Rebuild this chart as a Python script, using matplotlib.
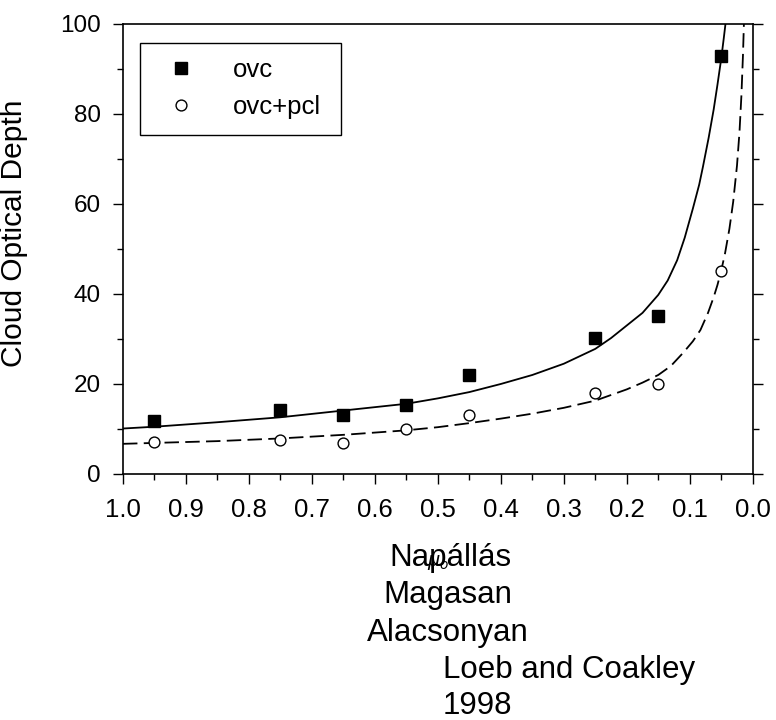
import matplotlib
matplotlib.use("Agg")
import matplotlib.pyplot as plt
from matplotlib.ticker import MultipleLocator, FormatStrFormatter

plt.rcParams['font.family'] = ['Liberation Sans', 'DejaVu Sans']

# measured points
mu0 = [0.95, 0.75, 0.65, 0.55, 0.45, 0.25, 0.15, 0.05]
tau_ovc = [11.7, 14.3, 13.0, 15.3, 22.1, 30.3, 35.0, 92.8]
tau_pcl = [7.0, 7.6, 6.9, 10.0, 13.0, 18.0, 20.0, 45.1]

# fitted curves
fit_ovc_x = [1.0, 0.95, 0.9, 0.85, 0.75, 0.65, 0.55, 0.5, 0.45, 0.4, 0.35, 0.3,
             0.25, 0.225, 0.2, 0.175, 0.15, 0.135, 0.12, 0.108, 0.095, 0.085,
             0.079, 0.07, 0.062, 0.056, 0.05, 0.046, 0.042]
fit_ovc_y = [10.1, 10.5, 11.0, 11.5, 12.6, 14.1, 15.6, 16.8, 18.2, 20.0, 22.0, 24.5,
             27.8, 30.2, 33.0, 35.8, 39.8, 43.0, 47.5, 52.5, 59.0, 64.3,
             68.3, 74.7, 81.0, 86.5, 92.3, 96.8, 101.5]
fit_pcl_x = [1.0, 0.95, 0.85, 0.75, 0.65, 0.55, 0.5, 0.45, 0.4, 0.35, 0.3, 0.25,
             0.2, 0.175, 0.15, 0.13, 0.11, 0.095, 0.083, 0.071, 0.062, 0.056,
             0.05, 0.044, 0.037, 0.031, 0.025, 0.021, 0.018, 0.0155, 0.014]
fit_pcl_y = [6.7, 6.9, 7.3, 7.9, 8.7, 9.7, 10.4, 11.3, 12.3, 13.4, 14.7, 16.3,
             18.8, 20.3, 22.0, 24.0, 27.0, 29.5, 32.0, 35.8, 39.3, 42.0,
             45.2, 49.0, 54.5, 60.5, 68.5, 76.0, 84.0, 93.0, 100.0]

series_labels = ['ovc', 'ovc+pcl']

fig = plt.figure(figsize=(7.76, 7.2), dpi=100)
ax = fig.add_axes([0.1585, 0.3417, 0.8115, 0.625])

ax.plot(fit_ovc_x, fit_ovc_y, color='black', lw=1.3)
ax.plot(fit_pcl_x, fit_pcl_y, color='black', lw=1.3, dashes=(8, 3.5))
ax.plot(mu0, tau_ovc, ls='none', marker='s', ms=8, color='black',
        label=series_labels[0])
ax.plot(mu0, tau_pcl, ls='none', marker='o', ms=7.8, mfc='white', mec='black',
        mew=1.0, label=series_labels[1])

ax.set_xlim(1.0, 0.0)
ax.set_ylim(0, 100)
ax.xaxis.set_major_locator(MultipleLocator(0.1))
ax.xaxis.set_minor_locator(MultipleLocator(0.05))
ax.xaxis.set_major_formatter(FormatStrFormatter('%.1f'))
ax.yaxis.set_major_locator(MultipleLocator(20))
ax.yaxis.set_minor_locator(MultipleLocator(10))
ax.tick_params(which='both', direction='out', right=True, top=False, width=1.0)
ax.tick_params(axis='y', labelsize=17.5)
ax.tick_params(axis='x', labelsize=18.5)
ax.tick_params(which='major', length=7)
ax.tick_params(which='minor', length=4)
ax.tick_params(axis='x', which='major', pad=10)
ax.tick_params(axis='y', which='major', pad=9)
for s in ax.spines.values():
    s.set_linewidth(1.2)

ax.set_ylabel('Cloud Optical Depth', fontsize=21.5)
ax.yaxis.set_label_coords(-0.151, 0.536)
ax.set_xlabel(r'$\mu_o$', fontsize=14)
ax.xaxis.set_label_coords(0.5, -0.175)

leg = ax.legend(loc='upper left', bbox_to_anchor=(0.027, 0.756, 0.319, 0.202),
                mode='expand', borderaxespad=0,
                fontsize=18.5, fancybox=False, framealpha=1, edgecolor='black',
                borderpad=0.6, labelspacing=0.5, handletextpad=1.0,
                handlelength=2.0)
leg.get_frame().set_linewidth(1.0)

fig.text(0.58, 0.214, 'Napállás', ha='center', va='baseline', fontsize=22.5)
fig.text(0.577, 0.1625, 'Magasan', ha='center', va='baseline', fontsize=22.5)
fig.text(0.577, 0.1097, 'Alacsonyan', ha='center', va='baseline', fontsize=22.5)
fig.text(0.571, 0.0583, 'Loeb and Coakley', ha='left', va='baseline', fontsize=22.5)
fig.text(0.571, 0.0083, '1998', ha='left', va='baseline', fontsize=22.5)

fig.savefig('out.png', dpi=100)
